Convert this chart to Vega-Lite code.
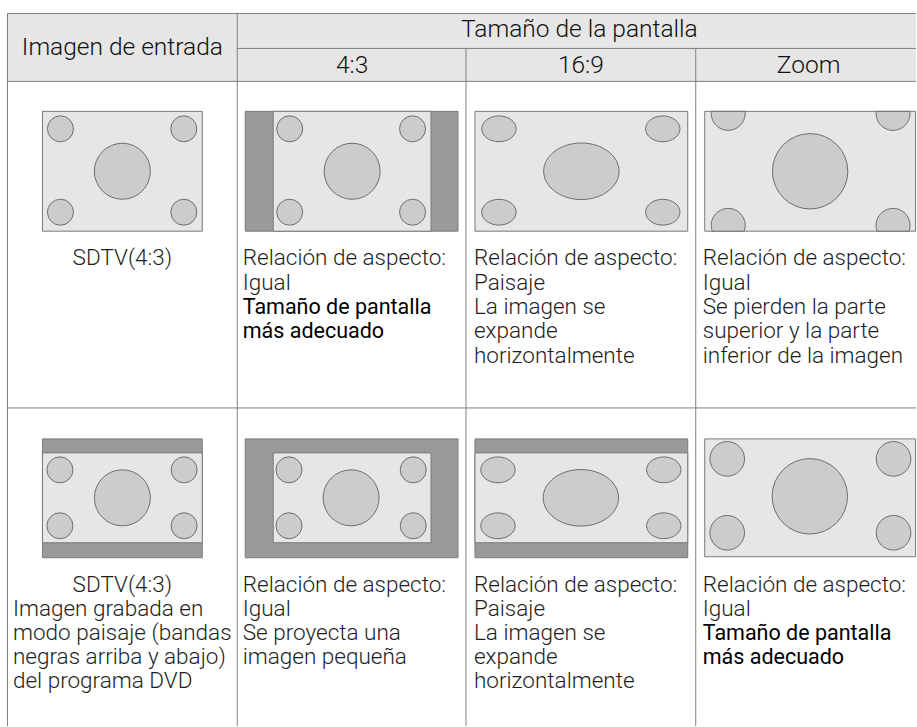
{
  "$schema": "https://vega.github.io/schema/vega-lite/v6.json",
  "width": 917,
  "height": 727,
  "autosize": {"type": "fit", "contains": "padding"},
  "padding": 0,
  "background": "white",
  "config": {"view": {"stroke": null}},
  "datasets": {
    "header": [
      {"x": 8, "x2": 917, "y": 13.5, "y2": 81.5}
    ],
    "lines": [
      {"x": 7.5, "x2": 917, "y": 13.5, "y2": 13.5},
      {"x": 237.5, "x2": 917, "y": 48.5, "y2": 48.5},
      {"x": 7.5, "x2": 917, "y": 81.5, "y2": 81.5},
      {"x": 7.5, "x2": 917, "y": 408.5, "y2": 408.5},
      {"x": 7.5, "x2": 7.5, "y": 13.5, "y2": 727},
      {"x": 237.5, "x2": 237.5, "y": 13.5, "y2": 727},
      {"x": 466.5, "x2": 466.5, "y": 48.5, "y2": 727},
      {"x": 696.5, "x2": 696.5, "y": 48.5, "y2": 727}
    ],
    "screens": [
      {"x": 42.5, "x2": 202.5, "y": 111.5, "y2": 231.5, "part": "picture"},
      {"x": 245.5, "x2": 458.5, "y": 111.5, "y2": 231.5, "part": "band"},
      {"x": 273.5, "x2": 431.5, "y": 111.5, "y2": 231.5, "part": "picture"},
      {"x": 475.5, "x2": 688.5, "y": 111.5, "y2": 231.5, "part": "picture"},
      {"x": 705.5, "x2": 916.5, "y": 111.5, "y2": 231.5, "part": "picture"},
      {"x": 42.5, "x2": 202.5, "y": 439.5, "y2": 558.5, "part": "band"},
      {"x": 42.5, "x2": 202.5, "y": 453.5, "y2": 543.5, "part": "picture"},
      {"x": 245.5, "x2": 458.5, "y": 439.5, "y2": 558.5, "part": "band"},
      {"x": 273.5, "x2": 431.5, "y": 453.5, "y2": 543.5, "part": "picture"},
      {"x": 475.5, "x2": 688.5, "y": 439.5, "y2": 558.5, "part": "band"},
      {"x": 475.5, "x2": 688.5, "y": 453.5, "y2": 543.5, "part": "picture"},
      {"x": 705.5, "x2": 916.5, "y": 439.5, "y2": 557.5, "part": "picture"}
    ],
    "circles": [
      {"x": 60.5, "y": 129, "kind": "c13"},
      {"x": 184, "y": 129, "kind": "c13"},
      {"x": 60.5, "y": 212.5, "kind": "c13"},
      {"x": 184, "y": 212.5, "kind": "c13"},
      {"x": 122.5, "y": 171.5, "kind": "c28"},
      {"x": 290, "y": 129, "kind": "c13"},
      {"x": 413, "y": 129, "kind": "c13"},
      {"x": 290, "y": 212.5, "kind": "c13"},
      {"x": 413, "y": 212.5, "kind": "c13"},
      {"x": 352.5, "y": 171.5, "kind": "c28"},
      {"x": 499.5, "y": 129, "kind": "e17"},
      {"x": 663.5, "y": 129, "kind": "e17"},
      {"x": 499.5, "y": 212.5, "kind": "e17"},
      {"x": 663.5, "y": 212.5, "kind": "e17"},
      {"x": 582, "y": 171.5, "kind": "e38"},
      {"x": 729, "y": 113.5, "kind": "top17"},
      {"x": 894, "y": 113.5, "kind": "top17"},
      {"x": 729, "y": 225.7, "kind": "bot17"},
      {"x": 894, "y": 225.7, "kind": "bot17"},
      {"x": 811, "y": 171.5, "kind": "c38"},
      {"x": 60, "y": 470.5, "kind": "c13"},
      {"x": 184.3, "y": 470.5, "kind": "c13"},
      {"x": 60, "y": 526.5, "kind": "c13"},
      {"x": 184.3, "y": 526.5, "kind": "c13"},
      {"x": 122.5, "y": 498.5, "kind": "c28"},
      {"x": 289.3, "y": 470.5, "kind": "c13"},
      {"x": 413.7, "y": 470.5, "kind": "c13"},
      {"x": 289.3, "y": 526.5, "kind": "c13"},
      {"x": 413.7, "y": 526.5, "kind": "c13"},
      {"x": 351.5, "y": 498.5, "kind": "c28"},
      {"x": 498.5, "y": 470.5, "kind": "e17"},
      {"x": 664.5, "y": 470.5, "kind": "e17"},
      {"x": 498.5, "y": 526.5, "kind": "e17"},
      {"x": 664.5, "y": 526.5, "kind": "e17"},
      {"x": 581.5, "y": 498.5, "kind": "e38"},
      {"x": 728, "y": 459.5, "kind": "c17"},
      {"x": 894.5, "y": 459.5, "kind": "c17"},
      {"x": 728, "y": 533.5, "kind": "c17"},
      {"x": 894.5, "y": 533.5, "kind": "c17"},
      {"x": 810.7, "y": 497, "kind": "c38"}
    ],
    "headings": [
      {"x": 122.5, "y": 55, "label": "Imagen de entrada"},
      {"x": 580, "y": 37, "label": "Tamaño de la pantalla"},
      {"x": 352.5, "y": 73, "label": "4:3"},
      {"x": 581.5, "y": 73, "label": "16:9"},
      {"x": 809.5, "y": 73, "label": "Zoom"}
    ],
    "labels": [
      {"x": 122.5, "y": 265.7, "label": "SDTV(4:3)", "anchor": "middle", "emph": false},
      {"x": 243, "y": 265.7, "label": "Relación de aspecto:", "anchor": "start", "emph": false},
      {"x": 243, "y": 290, "label": "Igual", "anchor": "start", "emph": false},
      {"x": 243, "y": 314.4, "label": "Tamaño de pantalla", "anchor": "start", "emph": true},
      {"x": 243, "y": 338.7, "label": "más adecuado", "anchor": "start", "emph": true},
      {"x": 474.5, "y": 265.7, "label": "Relación de aspecto:", "anchor": "start", "emph": false},
      {"x": 474.5, "y": 290, "label": "Paisaje", "anchor": "start", "emph": false},
      {"x": 474.5, "y": 314.4, "label": "La imagen se", "anchor": "start", "emph": false},
      {"x": 474.5, "y": 338.7, "label": "expande", "anchor": "start", "emph": false},
      {"x": 474.5, "y": 363, "label": "horizontalmente", "anchor": "start", "emph": false},
      {"x": 703.5, "y": 265.7, "label": "Relación de aspecto:", "anchor": "start", "emph": false},
      {"x": 703.5, "y": 290, "label": "Igual", "anchor": "start", "emph": false},
      {"x": 703.5, "y": 314.4, "label": "Se pierden la parte", "anchor": "start", "emph": false},
      {"x": 703.5, "y": 338.7, "label": "superior y la parte", "anchor": "start", "emph": false},
      {"x": 703.5, "y": 363, "label": "inferior de la imagen", "anchor": "start", "emph": false},
      {"x": 122.5, "y": 592.5, "label": "SDTV(4:3)", "anchor": "middle", "emph": false},
      {"x": 13, "y": 616.7, "label": "Imagen grabada en", "anchor": "start", "emph": false},
      {"x": 13, "y": 640.9, "label": "modo paisaje (bandas", "anchor": "start", "emph": false},
      {"x": 13, "y": 665.1, "label": "negras arriba y abajo)", "anchor": "start", "emph": false},
      {"x": 13, "y": 689.3, "label": "del programa DVD", "anchor": "start", "emph": false},
      {"x": 243, "y": 592.5, "label": "Relación de aspecto:", "anchor": "start", "emph": false},
      {"x": 243, "y": 616.7, "label": "Igual", "anchor": "start", "emph": false},
      {"x": 243, "y": 640.9, "label": "Se proyecta una", "anchor": "start", "emph": false},
      {"x": 243, "y": 665.1, "label": "imagen pequeña", "anchor": "start", "emph": false},
      {"x": 474.5, "y": 592.5, "label": "Relación de aspecto:", "anchor": "start", "emph": false},
      {"x": 474.5, "y": 616.7, "label": "Paisaje", "anchor": "start", "emph": false},
      {"x": 474.5, "y": 640.9, "label": "La imagen se", "anchor": "start", "emph": false},
      {"x": 474.5, "y": 665.1, "label": "expande", "anchor": "start", "emph": false},
      {"x": 474.5, "y": 689.3, "label": "horizontalmente", "anchor": "start", "emph": false},
      {"x": 703.5, "y": 592.5, "label": "Relación de aspecto:", "anchor": "start", "emph": false},
      {"x": 703.5, "y": 616.7, "label": "Igual", "anchor": "start", "emph": false},
      {"x": 703.5, "y": 640.9, "label": "Tamaño de pantalla", "anchor": "start", "emph": true},
      {"x": 703.5, "y": 665.1, "label": "más adecuado", "anchor": "start", "emph": true}
    ]
  },
  "encoding": {
    "x": {"field": "x", "type": "quantitative", "scale": {"domain": [0, 917], "nice": false, "zero": false}, "axis": null},
    "y": {"field": "y", "type": "quantitative", "scale": {"domain": [0, 727], "nice": false, "zero": false, "reverse": true}, "axis": null}
  },
  "layer": [
    {
      "data": {"name": "header"},
      "mark": {"type": "rect", "fill": "#e6e6e6"},
      "encoding": {"x2": {"field": "x2"}, "y2": {"field": "y2"}}
    },
    {
      "data": {"name": "lines"},
      "mark": {"type": "rule", "stroke": "#808080", "strokeWidth": 1},
      "encoding": {"x2": {"field": "x2"}, "y2": {"field": "y2"}}
    },
    {
      "data": {"name": "screens"},
      "mark": {"type": "rect", "stroke": "#7a7a7a", "strokeWidth": 1},
      "encoding": {
        "x2": {"field": "x2"},
        "y2": {"field": "y2"},
        "fill": {"field": "part", "type": "nominal", "scale": {"domain": ["band", "picture"], "range": ["#9a9a9a", "#e6e6e6"]}, "legend": null}
      }
    },
    {
      "data": {"name": "circles"},
      "transform": [{"filter": "datum.kind === 'c13'"}],
      "mark": {"type": "point", "shape": "circle", "size": 676, "filled": true, "fill": "#cccccc", "stroke": "#6e6e6e", "strokeWidth": 1, "opacity": 1}
    },
    {
      "data": {"name": "circles"},
      "transform": [{"filter": "datum.kind === 'c28'"}],
      "mark": {"type": "point", "shape": "circle", "size": 3136, "filled": true, "fill": "#cccccc", "stroke": "#6e6e6e", "strokeWidth": 1, "opacity": 1}
    },
    {
      "data": {"name": "circles"},
      "transform": [{"filter": "datum.kind === 'c17'"}],
      "mark": {"type": "point", "shape": "circle", "size": 1197, "filled": true, "fill": "#cccccc", "stroke": "#6e6e6e", "strokeWidth": 1, "opacity": 1}
    },
    {
      "data": {"name": "circles"},
      "transform": [{"filter": "datum.kind === 'c38'"}],
      "mark": {"type": "point", "shape": "circle", "size": 5685, "filled": true, "fill": "#cccccc", "stroke": "#6e6e6e", "strokeWidth": 1, "opacity": 1}
    },
    {
      "data": {"name": "circles"},
      "transform": [{"filter": "datum.kind === 'e17'"}],
      "mark": {"type": "point", "shape": "M -1 0 A 1 0.75 0 1 0 1 0 A 1 0.75 0 1 0 -1 0 Z", "size": 1183, "filled": true, "fill": "#cccccc", "stroke": "#6e6e6e", "strokeWidth": 1, "opacity": 1}
    },
    {
      "data": {"name": "circles"},
      "transform": [{"filter": "datum.kind === 'e38'"}],
      "mark": {"type": "point", "shape": "M -1 0 A 1 0.75 0 1 0 1 0 A 1 0.75 0 1 0 -1 0 Z", "size": 5685, "filled": true, "fill": "#cccccc", "stroke": "#6e6e6e", "strokeWidth": 1, "opacity": 1}
    },
    {
      "data": {"name": "circles"},
      "transform": [{"filter": "datum.kind === 'top17'"}],
      "mark": {"type": "point", "shape": "M -0.993 -0.118 A 1 1 0 1 0 0.993 -0.118 Z", "size": 1156, "filled": true, "fill": "#cccccc", "stroke": "#6e6e6e", "strokeWidth": 1, "opacity": 1}
    },
    {
      "data": {"name": "circles"},
      "transform": [{"filter": "datum.kind === 'bot17'"}],
      "mark": {"type": "point", "shape": "M -0.940 0.341 A 1 1 0 1 1 0.940 0.341 Z", "size": 1156, "filled": true, "fill": "#cccccc", "stroke": "#6e6e6e", "strokeWidth": 1, "opacity": 1}
    },
    {
      "data": {"name": "headings"},
      "mark": {"type": "text", "align": "center", "baseline": "alphabetic", "font": "Roboto", "fontSize": 24.5, "fontWeight": 300, "color": "#111111"},
      "encoding": {"text": {"field": "label"}}
    },
    {
      "data": {"name": "labels"},
      "transform": [{"filter": "datum.anchor === 'middle'"}],
      "mark": {"type": "text", "align": "center", "baseline": "alphabetic", "font": "Roboto", "fontSize": 22.5, "fontWeight": 300, "color": "#1e1e1e"},
      "encoding": {"text": {"field": "label"}}
    },
    {
      "data": {"name": "labels"},
      "transform": [{"filter": "datum.anchor === 'start' && !datum.emph"}],
      "mark": {"type": "text", "align": "left", "baseline": "alphabetic", "font": "Roboto", "fontSize": 22.5, "fontWeight": 300, "color": "#1e1e1e"},
      "encoding": {"text": {"field": "label"}}
    },
    {
      "data": {"name": "labels"},
      "transform": [{"filter": "datum.anchor === 'start' && datum.emph"}],
      "mark": {"type": "text", "align": "left", "baseline": "alphabetic", "font": "Roboto", "fontSize": 21.5, "fontWeight": 400, "color": "#000000"},
      "encoding": {"text": {"field": "label"}}
    }
  ]
}
